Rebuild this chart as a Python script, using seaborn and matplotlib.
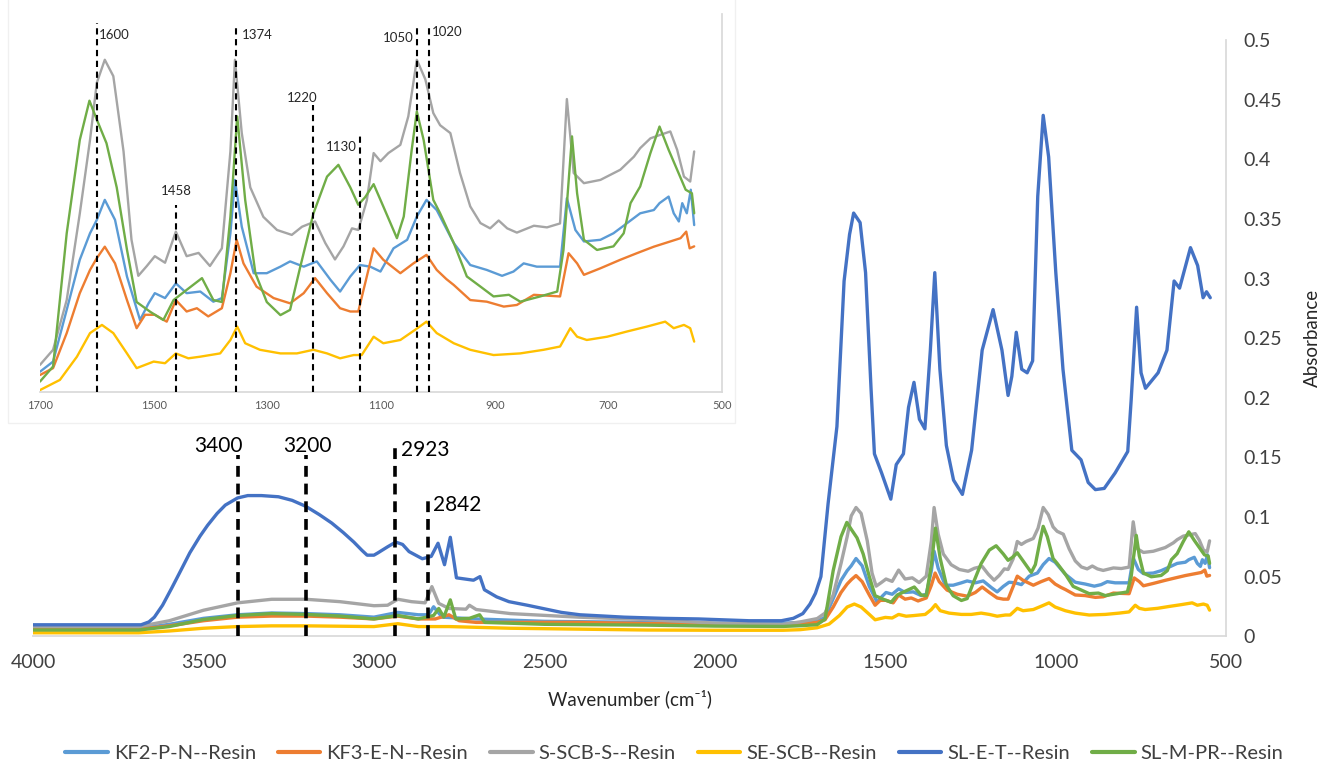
import pandas as pd
import seaborn as sns
import matplotlib.pyplot as plt
from matplotlib.lines import Line2D
from matplotlib.patches import Rectangle

sns.set_theme(style="white")
plt.rcParams["font.family"] = ["Lato", "DejaVu Sans"]

SERIES = ["KF2-P-N--Resin", "KF3-E-N--Resin", "S-SCB-S--Resin",
          "SE-SCB--Resin", "SL-E-T--Resin", "SL-M-PR--Resin"]
COLORS = ["#5B9BD5", "#ED7D31", "#A5A5A5", "#FFC000", "#4472C4", "#70AD47"]

# (wavenumber, absorbance)
KF2 = [(4000, 0.0064), (3690, 0.0064), (3600, 0.010), (3500, 0.015), (3400, 0.018), (3300, 0.0195),
       (3200, 0.019), (3100, 0.018), (3000, 0.016), (2930, 0.020), (2870, 0.018), (2840, 0.018),
       (2825, 0.0247), (2800, 0.016), (2700, 0.0145), (2500, 0.0125), (2200, 0.0116), (2000, 0.011),
       (1800, 0.011), (1750, 0.0115),
       (1700, 0.0127), (1677, 0.0158), (1653, 0.0316), (1630, 0.0469), (1612, 0.055), (1600, 0.0591),
       (1586, 0.0652), (1568, 0.0591), (1547, 0.0418), (1524, 0.0285), (1509, 0.0336), (1498, 0.0367),
       (1480, 0.0352), (1461, 0.0397), (1442, 0.0367), (1418, 0.0372), (1395, 0.0341), (1380, 0.0352),
       (1365, 0.055), (1357, 0.0713), (1345, 0.057), (1324, 0.0428), (1301, 0.0428), (1277, 0.0448),
       (1260, 0.0464), (1236, 0.0448), (1213, 0.0464), (1189, 0.0408), (1172, 0.0372), (1154, 0.0418),
       (1137, 0.0453), (1119, 0.0448), (1101, 0.0433), (1078, 0.0504), (1054, 0.053), (1037, 0.0601),
       (1020, 0.0652), (1002, 0.0621), (972, 0.052), (943, 0.0453), (914, 0.0438), (887, 0.042),
       (867, 0.0433), (849, 0.0458), (826, 0.0448), (785, 0.0448), (773, 0.0657), (758, 0.056),
       (743, 0.0525), (714, 0.053), (691, 0.055), (667, 0.0581), (644, 0.0611), (620, 0.0621),
       (610, 0.0642), (594, 0.0662), (585, 0.0611), (576, 0.0586), (570, 0.0642), (562, 0.0611),
       (555, 0.0683), (549, 0.0575)]

KF3 = [(4000, 0.0058), (3690, 0.0058), (3600, 0.0087), (3500, 0.013), (3400, 0.016), (3300, 0.0169),
       (3200, 0.0169), (3100, 0.016), (3000, 0.0145), (2930, 0.0169), (2870, 0.0145), (2820, 0.0145),
       (2780, 0.018), (2750, 0.013), (2700, 0.0116), (2400, 0.0116), (2000, 0.0097), (1800, 0.0095),
       (1750, 0.010),
       (1700, 0.0117), (1677, 0.0138), (1653, 0.0245), (1630, 0.0367), (1612, 0.0438), (1600, 0.0474),
       (1586, 0.0509), (1568, 0.0458), (1547, 0.0346), (1530, 0.026), (1515, 0.0301), (1498, 0.0301),
       (1477, 0.028), (1461, 0.0346), (1442, 0.0311), (1424, 0.0321), (1404, 0.0296), (1380, 0.0321),
       (1365, 0.0428), (1354, 0.053), (1342, 0.0458), (1319, 0.0387), (1289, 0.0352), (1260, 0.0336),
       (1236, 0.0367), (1216, 0.0413), (1195, 0.0367), (1172, 0.0321), (1154, 0.0311), (1140, 0.0311),
       (1125, 0.0418), (1113, 0.0504), (1096, 0.0469), (1066, 0.0428), (1043, 0.0458), (1020, 0.0484),
       (1002, 0.0438), (985, 0.041), (972, 0.0392), (943, 0.0346), (914, 0.0341), (884, 0.0326),
       (861, 0.0331), (831, 0.0362), (785, 0.0357), (770, 0.0489), (755, 0.0458), (743, 0.0423),
       (714, 0.0443), (679, 0.0469), (650, 0.0489), (620, 0.0509), (591, 0.0525), (573, 0.0535),
       (563, 0.0555), (557, 0.0504), (549, 0.051)]

SSCB = [(4000, 0.0081), (3690, 0.0081), (3600, 0.013), (3500, 0.0218), (3400, 0.028), (3300, 0.031),
        (3200, 0.031), (3100, 0.029), (3000, 0.0256), (2960, 0.026), (2930, 0.031), (2890, 0.029),
        (2850, 0.028), (2830, 0.0416), (2810, 0.0276), (2780, 0.0233), (2730, 0.0227), (2720, 0.026),
        (2700, 0.0224), (2600, 0.019), (2400, 0.016), (2200, 0.014), (2000, 0.011), (1800, 0.0100),
        (1750, 0.012),
        (1700, 0.0148), (1677, 0.0194), (1653, 0.0346), (1630, 0.061), (1612, 0.0835), (1600, 0.101),
        (1586, 0.108), (1571, 0.103), (1553, 0.080), (1539, 0.053), (1527, 0.042), (1512, 0.045),
        (1498, 0.048), (1480, 0.046), (1461, 0.0555), (1442, 0.048), (1421, 0.049), (1401, 0.045),
        (1380, 0.0504), (1365, 0.080), (1357, 0.108), (1345, 0.0856), (1330, 0.069), (1307, 0.060),
        (1283, 0.056), (1257, 0.0545), (1239, 0.057), (1216, 0.0586), (1198, 0.052), (1181, 0.047),
        (1166, 0.051), (1151, 0.0565), (1140, 0.056), (1125, 0.065), (1113, 0.0795), (1101, 0.077),
        (1087, 0.0795), (1066, 0.082), (1052, 0.0907), (1037, 0.108), (1022, 0.102), (1008, 0.0917),
        (996, 0.088), (978, 0.0856), (961, 0.0734), (943, 0.0632), (925, 0.0581), (908, 0.0565),
        (893, 0.0589), (878, 0.0565), (861, 0.0552), (831, 0.0573), (808, 0.0568), (785, 0.058),
        (773, 0.096), (761, 0.0734), (743, 0.0703), (714, 0.0713), (679, 0.0744), (655, 0.0784),
        (644, 0.081), (626, 0.084), (608, 0.0851), (591, 0.0861), (579, 0.0805), (567, 0.0723),
        (556, 0.0708), (549, 0.080)]

SESCB = [(4000, 0.0029), (3690, 0.0029), (3600, 0.0044), (3500, 0.0067), (3400, 0.0081), (3300, 0.0087),
         (3200, 0.0087), (3000, 0.0081), (2930, 0.0105), (2870, 0.0081), (2780, 0.0081), (2600, 0.0067),
         (2200, 0.0052), (2000, 0.0050), (1800, 0.0050), (1750, 0.0055),
         (1700, 0.0071), (1665, 0.0102), (1635, 0.0173), (1612, 0.0245), (1591, 0.027), (1571, 0.0245),
         (1547, 0.0183), (1530, 0.0138), (1500, 0.0158), (1480, 0.0153), (1461, 0.0183), (1439, 0.0168),
         (1418, 0.0173), (1383, 0.0183), (1365, 0.0224), (1353, 0.0265), (1339, 0.0214), (1313, 0.0194),
         (1277, 0.0183), (1248, 0.0183), (1219, 0.0194), (1195, 0.0183), (1172, 0.0168), (1148, 0.0178),
         (1134, 0.0178), (1113, 0.0234), (1096, 0.0214), (1066, 0.0224), (1040, 0.0255), (1020, 0.028),
         (1002, 0.0245), (972, 0.0214), (943, 0.0194), (902, 0.0178), (855, 0.0183), (814, 0.0194),
         (785, 0.0204), (767, 0.026), (755, 0.0234), (738, 0.0224), (702, 0.0234), (667, 0.025),
         (632, 0.0265), (600, 0.028), (585, 0.026), (567, 0.027), (556, 0.026), (549, 0.0219)]

SLET = [(4000, 0.0096), (3683, 0.0096), (3660, 0.012), (3644, 0.016), (3620, 0.026), (3592, 0.041),
        (3565, 0.056), (3540, 0.070), (3510, 0.084), (3488, 0.093), (3460, 0.103), (3436, 0.110),
        (3400, 0.116), (3370, 0.118), (3330, 0.118), (3280, 0.117), (3240, 0.114), (3200, 0.109),
        (3160, 0.102), (3124, 0.095), (3090, 0.087), (3059, 0.079), (3035, 0.072), (3020, 0.068),
        (3000, 0.068), (2988, 0.070), (2960, 0.075), (2936, 0.079), (2916, 0.077), (2897, 0.071),
        (2858, 0.065), (2832, 0.067), (2812, 0.078), (2793, 0.060), (2776, 0.083), (2758, 0.049),
        (2708, 0.047), (2689, 0.050), (2676, 0.039), (2640, 0.033), (2604, 0.029), (2550, 0.026),
        (2500, 0.023), (2450, 0.020), (2396, 0.018), (2330, 0.017), (2266, 0.016), (2150, 0.015),
        (2048, 0.0145), (1900, 0.013), (1805, 0.013), (1770, 0.015), (1742, 0.019), (1721, 0.027),
        (1705, 0.036), (1689, 0.050), (1668, 0.111), (1642, 0.176), (1621, 0.298), (1605, 0.337),
        (1593, 0.355), (1574, 0.347), (1558, 0.305), (1542, 0.208), (1532, 0.153), (1511, 0.137),
        (1484, 0.115), (1468, 0.144), (1447, 0.153), (1432, 0.192), (1416, 0.213), (1400, 0.182),
        (1384, 0.174), (1368, 0.240), (1355, 0.305), (1340, 0.224), (1321, 0.160), (1300, 0.131),
        (1274, 0.119), (1247, 0.156), (1216, 0.240), (1184, 0.274), (1158, 0.240), (1140, 0.202),
        (1129, 0.218), (1116, 0.255), (1100, 0.224), (1084, 0.221), (1068, 0.231), (1053, 0.369),
        (1037, 0.437), (1021, 0.402), (1000, 0.305), (979, 0.224), (953, 0.156), (926, 0.148),
        (905, 0.129), (884, 0.123), (858, 0.124), (826, 0.137), (789, 0.155), (779, 0.198),
        (763, 0.276), (750, 0.221), (737, 0.208), (700, 0.221), (674, 0.240), (653, 0.298),
        (637, 0.292), (605, 0.326), (584, 0.311), (568, 0.284), (558, 0.289), (547, 0.284)]

SLMPR = [(4000, 0.0052), (3690, 0.0052), (3600, 0.0081), (3500, 0.014), (3400, 0.0174), (3300, 0.019),
         (3200, 0.0183), (3100, 0.0169), (3000, 0.0145), (2930, 0.0174), (2870, 0.0145), (2825, 0.0174),
         (2810, 0.0233), (2795, 0.016), (2776, 0.0305), (2760, 0.0145), (2720, 0.015), (2690, 0.018),
         (2675, 0.0116), (2500, 0.010), (2200, 0.0093), (2000, 0.0085), (1800, 0.0082), (1750, 0.0088),
         (1700, 0.0097), (1677, 0.0143), (1653, 0.055), (1630, 0.0835), (1613, 0.0955), (1600, 0.0897),
         (1583, 0.0825), (1565, 0.069), (1547, 0.050), (1530, 0.034), (1506, 0.031), (1483, 0.0285),
         (1465, 0.0346), (1442, 0.0377), (1415, 0.0413), (1395, 0.0346), (1380, 0.034), (1365, 0.060),
         (1353, 0.0907), (1339, 0.0652), (1321, 0.0428), (1301, 0.034), (1277, 0.030), (1260, 0.0316),
         (1242, 0.0448), (1219, 0.061), (1195, 0.0723), (1175, 0.0759), (1154, 0.069), (1140, 0.0637),
         (1128, 0.066), (1113, 0.070), (1096, 0.0632), (1072, 0.0535), (1060, 0.0601), (1046, 0.0805),
         (1037, 0.0922), (1025, 0.0835), (1008, 0.0652), (996, 0.0611), (972, 0.052), (949, 0.0418),
         (925, 0.0387), (902, 0.0357), (875, 0.0362), (855, 0.0341), (820, 0.0357), (790, 0.0372),
         (779, 0.0499), (764, 0.0846), (755, 0.0672), (743, 0.053), (720, 0.0499), (691, 0.051),
         (673, 0.055), (661, 0.0642), (644, 0.0693), (626, 0.0795), (610, 0.0876), (594, 0.0805),
         (579, 0.0744), (564, 0.0683), (553, 0.0672), (549, 0.0611)]

MAIN_XTICKS = [4000, 3500, 3000, 2500, 2000, 1500, 1000, 500]
MAIN_YTICKS = [0, 0.05, 0.1, 0.15, 0.2, 0.25, 0.3, 0.35, 0.4, 0.45, 0.5]
INSET_XTICKS = [1700, 1500, 1300, 1100, 900, 700, 500]

# marked bands: label, line position, line top, label x, label y, alignment
MAIN_MARKS = [("3400", 3400, 0.152, 3455, 0.160, "center"),
              ("3200", 3200, 0.152, 3195, 0.160, "center"),
              ("2923", 2938, 0.162, 2922, 0.156, "left"),
              ("2842", 2842, 0.118, 2826, 0.110, "left")]
INSET_MARKS = [("1600", 1600, 0.1193, 1596, 0.1156, "left"),
               ("1458", 1460, 0.0637, 1460, 0.0680, "center"),
               ("1374", 1356, 0.1187, 1345, 0.1156, "left"),
               ("1220", 1220, 0.0942, 1238, 0.0964, "center"),
               ("1130", 1137, 0.0851, 1142, 0.0814, "right"),
               ("1050", 1037, 0.1187, 1043, 0.1147, "right"),
               ("1020", 1016, 0.1187, 1011, 0.1166, "left")]

rows = []
for name, pts in zip(SERIES, [KF2, KF3, SSCB, SESCB, SLET, SLMPR]):
    for wn, a in pts:
        rows.append((name, wn, a))
df = pd.DataFrame(rows, columns=["series", "wavenumber", "absorbance"])
palette = dict(zip(SERIES, COLORS))

fig = plt.figure(figsize=(13.2, 7.74), dpi=100)

# main spectrum
ax = fig.add_axes([0.025, 0.178, 0.904, 0.770])
sns.lineplot(data=df, x="wavenumber", y="absorbance", hue="series", hue_order=SERIES,
             palette=palette, estimator=None, lw=2.4, legend=False, ax=ax,
             solid_joinstyle="round")
ax.set_xlim(4000, 500)
ax.set_ylim(0, 0.5)
ax.set_xticks(MAIN_XTICKS)
ax.set_yticks(MAIN_YTICKS)
ax.set_yticklabels([f"{v:g}" for v in MAIN_YTICKS])
ax.yaxis.tick_right()
ax.yaxis.set_label_position("right")
ax.tick_params(length=0, labelsize=14, colors="#404040")
ax.tick_params(axis="x", pad=13)
ax.tick_params(axis="y", pad=12)
for s in ["top", "left"]:
    ax.spines[s].set_visible(False)
for s in ["bottom", "right"]:
    ax.spines[s].set_color("#d9d9d9")
ax.set_xlabel("Wavenumber (cm⁻¹)", fontsize=13.5, color="#262626", labelpad=13)
ax.set_ylabel("Absorbance", fontsize=13.5, color="#262626", labelpad=16)

for lab, pos, top, tx, ty, ha in MAIN_MARKS:
    ax.plot([pos, pos], [0, top], color="black", lw=2.6, ls=(0, (3, 1.9)), zorder=5)
    ax.text(tx, ty, lab, fontsize=15, ha=ha, va="center", color="black", zorder=6)

# faint outer frame of the inset chart
fig.patches.append(Rectangle((0.006, 0.4535), 0.551, 0.56, transform=fig.transFigure,
                             fill=False, edgecolor="#f0f0f0", lw=1))

# inset: fingerprint region without SL-E-T
ins = fig.add_axes([0.0303, 0.4935, 0.5167, 0.4885])
ins.set_facecolor("white")
sub = df[(df["wavenumber"] <= 1700) & (df["series"] != "SL-E-T--Resin")]
sns.lineplot(data=sub, x="wavenumber", y="absorbance", hue="series", hue_order=SERIES,
             palette=palette, estimator=None, lw=1.7, legend=False, ax=ins,
             solid_joinstyle="round")
ins.set_xlim(1700, 500)
ins.set_ylim(0.0065, 0.122)
ins.set_xticks(INSET_XTICKS)
ins.set_yticks([])
ins.set_xlabel("")
ins.set_ylabel("")
ins.tick_params(axis="x", length=0, labelsize=8, colors="#595959", pad=6)
for s in ["top", "left"]:
    ins.spines[s].set_visible(False)
for s in ["bottom", "right"]:
    ins.spines[s].set_color("#d9d9d9")

for lab, pos, top, tx, ty, ha in INSET_MARKS:
    ins.plot([pos, pos], [0.0065, top], color="black", lw=1.5, ls=(0, (3, 2.2)), zorder=5)
    ins.text(tx, ty, lab, fontsize=9.5, ha=ha, va="center", color="#262626", zorder=6)

handles = [Line2D([], [], color=c, lw=3) for c in COLORS]
fig.legend(handles, SERIES, loc="lower center", bbox_to_anchor=(0.511, -0.008), ncol=6,
           frameon=False, fontsize=14.5, handlelength=2.1, handletextpad=0.3,
           columnspacing=1.1, labelcolor="#404040")

fig.savefig("out.png", dpi=100)
